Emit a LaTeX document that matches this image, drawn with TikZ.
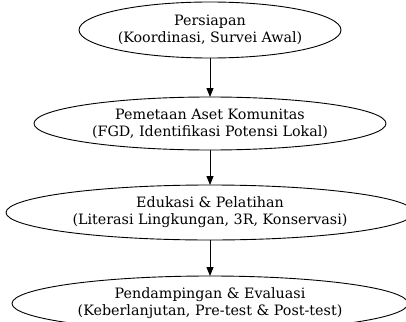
\documentclass[tikz,border=0pt]{standalone}
\usepackage{fontspec}
\setmainfont{DejaVu Serif}
\usetikzlibrary{shapes.geometric,arrows.meta}
\begin{document}
\begin{tikzpicture}[x=1pt,y=-1pt,
  stage/.style={draw=black,line width=0.9pt,ellipse,outer sep=0pt,inner sep=0pt,
    align=center,font=\fontsize{14.3}{17}\selectfont},
  flow/.style={draw=black,line width=0.9pt,-{Triangle[length=9pt,width=7pt]}}]
\clip (0,0) rectangle (406,321);
\node[stage,minimum width=262pt,minimum height=56pt] (s1) at (210,30) {Persiapan\\(Koordinasi, Survei Awal)};
\node[stage,minimum width=352pt,minimum height=53pt] (s2) at (210,123.5) {Pemetaan Aset Komunitas\\(FGD, Identifikasi Potensi Lokal)};
\node[stage,minimum width=408pt,minimum height=55pt] (s3) at (210,212.5) {Edukasi \& Pelatihan\\(Literasi Lingkungan, 3R, Konservasi)};
\node[stage,minimum width=396pt,minimum height=55pt] (s4) at (210,303.5) {Pendampingan \& Evaluasi\\(Keberlanjutan, Pre-test \& Post-test)};
\draw[flow] (s1) -- (s2);
\draw[flow] (s2) -- (s3);
\draw[flow] (s3) -- (s4);
\end{tikzpicture}
\end{document}
